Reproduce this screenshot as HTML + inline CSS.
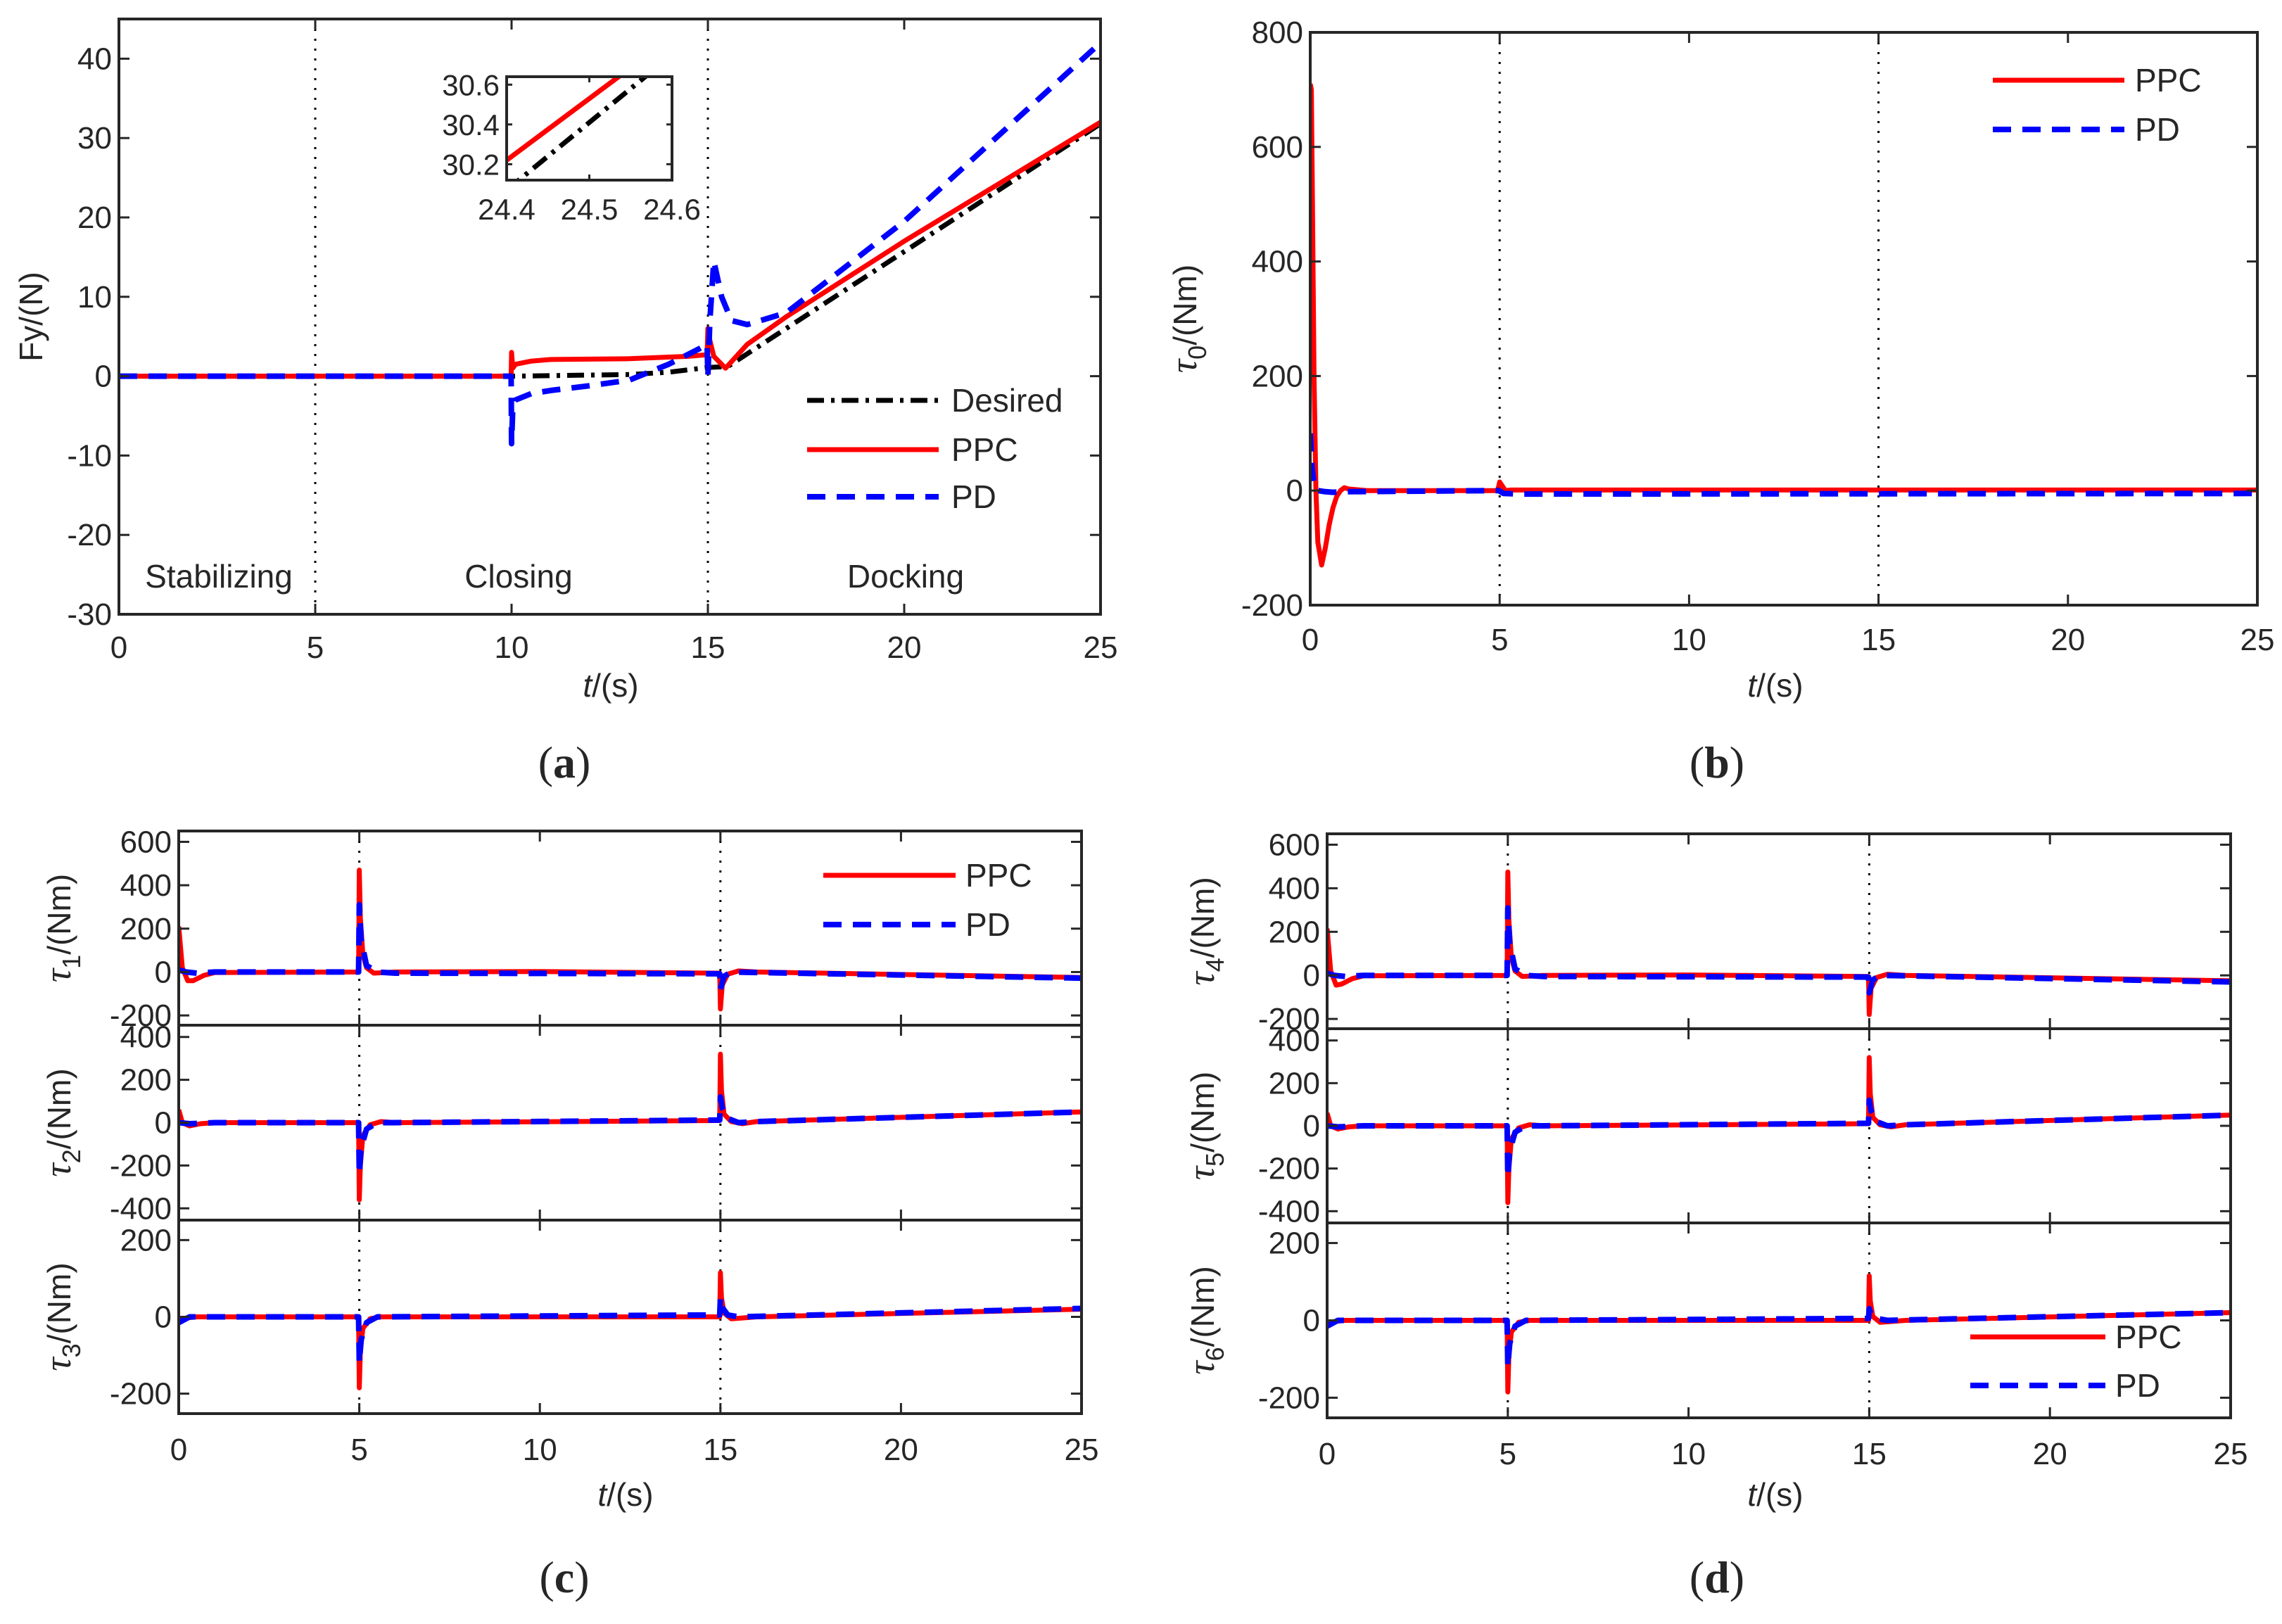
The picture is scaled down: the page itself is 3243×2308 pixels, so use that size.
<!DOCTYPE html>
<html><head><meta charset="utf-8"><style>
html,body{margin:0;padding:0;background:#fff}
svg{display:block}
text{font-family:"Liberation Sans",Arial,sans-serif;fill:#262626}
</style></head><body>
<svg id="fig" width="3243" height="2308" viewBox="0 0 3243 2308" xmlns="http://www.w3.org/2000/svg">
<rect width="3243" height="2308" fill="#fff"/>
<g id="root"></g>
<text x="802" y="1105" font-size="64" text-anchor="middle" style="font-family:'Liberation Serif',serif">(<tspan font-weight="bold">a</tspan>)</text>
<text x="2440" y="1105" font-size="64" text-anchor="middle" style="font-family:'Liberation Serif',serif">(<tspan font-weight="bold">b</tspan>)</text>
<text x="802" y="2263" font-size="64" text-anchor="middle" style="font-family:'Liberation Serif',serif">(<tspan font-weight="bold">c</tspan>)</text>
<text x="2440" y="2263" font-size="64" text-anchor="middle" style="font-family:'Liberation Serif',serif">(<tspan font-weight="bold">d</tspan>)</text>
</svg>
<script>
// ---------- Panel (a) data ----------
const aDesT = [0,10,13,14,15,15.5,25];
const aDesV = [0,0,0.2,0.5,1.1,1.2,31.8];
const aPpcT = [0,9.99,10,10.03,10.1,10.5,11,13,14.5,14.98,15,15.05,15.15,15.45,16,17,20,25];
const aPpcV = [0,0,3,1,1.5,1.9,2.1,2.2,2.5,2.7,6,4.5,2.5,1,4,7.5,17,32];
const aPdT = [0,9.99,10,10.03,10.1,10.5,11,12,13,14,14.8,14.98,15,15.05,15.15,15.35,15.6,16,17,20,25];
const aPdV = [0,0,-8.5,-4,-3,-2.2,-1.8,-1.2,-0.5,1.5,3.5,4,0,7,14.5,10,7,6.5,8,19.5,42];
const insetT = [24.4,24.6];
const insetPpcV = [30.22,30.84];
const insetDesV = [30.07,30.75];
const aXTicks = [0,5,10,15,20,25];
const aYTicks = [-30,-20,-10,0,10,20,30,40];
const insetXTicks = [24.4,24.5,24.6];
const insetYTicks = [30.2,30.4,30.6];
// ---------- Panel (b) data ----------
const bPpcT = [0,0.03,0.06,0.1,0.15,0.2,0.3,0.4,0.5,0.6,0.7,0.8,0.9,1,1.5,4.95,5,5.05,5.15,5.3,25];
const bPpcV = [710,700,500,200,0,-90,-130,-100,-60,-30,-10,0,5,3,0,0,15,10,0,1,1];
const bPdT = [0,0.05,0.1,0.2,0.4,0.6,1,4.98,5.1,5.5,25];
const bPdV = [100,40,10,0,-2,-3,-2,0,-5,-6,-5];
const bYTicks = [-200,0,200,400,600,800];
// ---------- Panel (c) data ----------
const t1PpcT = [0,0.1,0.25,0.4,0.7,1,4.98,5,5.03,5.1,5.2,5.4,6,10,14.98,15,15.05,15.2,15.5,16,25];
const t1PpcV = [210,20,-40,-40,-15,-2,0,470,250,80,20,-5,0,2,-5,-170,-60,-10,5,0,-25];
const t1PdT = [0,0.2,0.5,1,4.98,5,5.05,5.2,5.5,6,14.98,15,15.1,15.3,16,25];
const t1PdV = [10,0,-5,0,0,310,150,30,0,-5,-8,-80,-20,0,-2,-28];
const t2PpcT = [0,0.1,0.3,0.6,1,4.98,5,5.03,5.1,5.3,5.6,6,14.98,15,15.03,15.1,15.3,15.6,16,25];
const t2PpcV = [60,0,-15,-5,0,0,-360,-200,-60,-10,5,0,10,320,150,40,5,-5,5,50];
const t2PdT = [0,0.3,1,4.98,5,5.05,5.2,5.5,6,14.98,15,15.05,15.2,15.5,16,25];
const t2PdV = [0,-5,0,0,-240,-120,-30,0,0,12,120,70,20,0,5,50];
const t3PpcT = [0,0.2,0.5,4.98,5,5.03,5.1,5.3,5.6,14.98,15,15.03,15.1,15.3,15.6,16,25];
const t3PpcV = [-10,-3,0,0,-185,-90,-30,-5,0,0,115,50,10,-5,-3,0,20];
const t3PdT = [0,0.3,4.98,5,5.05,5.2,5.5,14.98,15,15.05,15.2,15.5,25];
const t3PdV = [-15,0,0,-120,-60,-15,0,5,50,25,5,0,22];
// ---------- Panel (d) data ----------
const t4PpcT = [0,0.1,0.25,0.4,0.7,1,4.98,5,5.03,5.1,5.2,5.4,6,10,14.98,15,15.05,15.2,15.5,16,25];
const t4PpcV = [215,20,-45,-40,-15,-2,0,475,250,80,20,-5,0,2,-5,-180,-60,-10,5,0,-25];
const t4PdT = [0,0.2,0.5,1,4.98,5,5.05,5.2,5.5,6,14.98,15,15.1,15.3,16,25];
const t4PdV = [10,0,-5,0,0,310,150,30,0,-5,-8,-80,-20,0,-2,-30];
const t5PpcT = [0,0.1,0.3,0.6,1,4.98,5,5.03,5.1,5.3,5.6,6,14.98,15,15.03,15.1,15.3,15.6,16,25];
const t5PpcV = [60,0,-15,-5,0,0,-360,-200,-60,-10,5,0,10,320,150,40,5,-5,5,50];
const t5PdT = [0,0.3,1,4.98,5,5.05,5.2,5.5,6,14.98,15,15.05,15.2,15.5,16,25];
const t5PdV = [0,-5,0,0,-240,-120,-30,0,0,12,120,70,20,0,5,50];
const t6PpcT = [0,0.2,0.5,4.98,5,5.03,5.1,5.3,5.6,14.98,15,15.03,15.1,15.3,15.6,16,25];
const t6PpcV = [-10,-3,0,0,-185,-90,-30,-5,0,0,115,50,10,-5,-3,0,20];
const t6PdT = [0,0.3,4.98,5,5.05,5.2,5.5,14.98,15,15.05,15.2,15.5,25];
const t6PdV = [-15,0,0,-120,-60,-15,0,5,30,15,5,0,20];
const tXTicks = [0,5,10,15,20,25];
const s1YTicks = [-200,0,200,400,600];
const s2YTicks = [-400,-200,0,200,400];
const s3YTicks = [-200,0,200];
const phaseLines = [5,15];

const NS = "http://www.w3.org/2000/svg";
const root = document.getElementById('root');
let clipId = 0;
function el(tag, attrs, parent){
  const e = document.createElementNS(NS, tag);
  for (const k in attrs) e.setAttribute(k, attrs[k]);
  (parent||root).appendChild(e);
  return e;
}
function makeAxes(name, x0,x1,y0,y1, xlim, ylim){
  const g = el('g',{});
  
  
  const sx = v => x0 + (v-xlim[0])/(xlim[1]-xlim[0])*(x1-x0);
  const sy = v => y1 - (v-ylim[0])/(ylim[1]-ylim[0])*(y1-y0);
  const cid = 'clip'+(clipId++);
  const cp = el('clipPath',{id:cid},g);
  el('rect',{x:x0,y:y0,width:x1-x0,height:y1-y0},cp);
  const plot = el('g',{'clip-path':'url(#'+cid+')'},g);
  return {g,plot,sx,sy,x0,x1,y0,y1};
}
function ticks(ax, xt, yt, opts){
  const tl = opts.tl||15;
  xt.forEach(v=>{
    const x = ax.sx(v);
    const t1 = el('line',{x1:x,x2:x,y1:ax.y1,y2:ax.y1-tl,stroke:'#262626','stroke-width':3},ax.g);
    
    
    el('line',{x1:x,x2:x,y1:ax.y0,y2:ax.y0+tl,stroke:'#262626','stroke-width':3},ax.g);
    if (opts.xlabels){
      const t = el('text',{x:x,y:ax.y1+(opts.xoff||62),'font-size':opts.fs||44,'text-anchor':'middle'},ax.g);
      t.textContent = opts.xfmt?opts.xfmt(v):String(v);
      
      
    }
  });
  yt.forEach(v=>{
    const y = ax.sy(v);
    const t1 = el('line',{x1:ax.x0,x2:ax.x0+tl,y1:y,y2:y,stroke:'#262626','stroke-width':3},ax.g);
    
    
    el('line',{x1:ax.x1,x2:ax.x1-tl,y1:y,y2:y,stroke:'#262626','stroke-width':3},ax.g);
    const t = el('text',{x:ax.x0-10,y:y+15,'font-size':opts.fs||44,'text-anchor':'end'},ax.g);
    t.textContent = opts.yfmt?opts.yfmt(v):String(v);
    
    
  });
}
function frame(ax){
  const r = el('rect',{x:ax.x0,y:ax.y0,width:ax.x1-ax.x0,height:ax.y1-ax.y0,fill:'none',stroke:'#262626','stroke-width':4},ax.g);
  
  
}
function series(ax, T, V, style, name){
  let d='';
  for(let i=0;i<T.length;i++) d += (i?'L':'M')+ax.sx(T[i]).toFixed(1)+','+ax.sy(V[i]).toFixed(1);
  const attrs = {d:d,fill:'none','stroke-linejoin':'round'};
  if(style==='ppc'){attrs.stroke='#ff0000';attrs['stroke-width']=7;}
  else if(style==='pd'){attrs.stroke='#0000ff';attrs['stroke-width']=8;attrs['stroke-dasharray']='26,16';}
  else {attrs.stroke='#000';attrs['stroke-width']=7;attrs['stroke-dasharray']='24,10,5,10';}
  const p = el('path',attrs,ax.plot);
  
  
}
function vlines(ax){
  phaseLines.forEach(v=>{
    const l = el('line',{x1:ax.sx(v),x2:ax.sx(v),y1:ax.y0,y2:ax.y1,stroke:'#000','stroke-width':3,'stroke-dasharray':'3,11'},ax.plot);
    
    
  });
}
function legend(items, xa, xb, xt){
  items.forEach(it=>{
    const attrs = {x1:xa,x2:xb,y1:it.y,y2:it.y,'stroke-width':7};
    if(it.s==='ppc'){attrs.stroke='#ff0000';}
    else if(it.s==='pd'){attrs.stroke='#0000ff';attrs['stroke-width']=8;attrs['stroke-dasharray']='26,16';}
    else {attrs.stroke='#000';attrs['stroke-dasharray']='24,10,5,10';}
    const l = el('line',attrs);
    
    
    const t = el('text',{x:xt,y:it.y+16,'font-size':46});
    t.textContent = it.t;
    
    
  });
}
function text(x,y,str,fs,name,anchor){
  const t = el('text',{x:x,y:y,'font-size':fs,'text-anchor':anchor||'middle'});
  t.textContent = str;
  
  
  return t;
}
function xlabel(x,y,name){
  const t = el('text',{x:x,y:y,'font-size':46,'text-anchor':'middle'});
  
  
  const a = el('tspan',{'font-style':'italic'},t); a.textContent='t';
  const b = el('tspan',{},t); b.textContent='/(s)';
}
function tauLabel(x,y,sub,name){
  const t = el('text',{x:0,y:0,'font-size':46,'text-anchor':'middle',transform:'translate('+x+','+y+') rotate(-90)'});
  
  
  const a = el('tspan',{'font-style':'italic',style:"font-family:'Liberation Serif',serif",'font-size':54},t); a.textContent='τ';
  const b = el('tspan',{dy:14,'font-size':36},t); b.textContent=sub;
  const c = el('tspan',{dy:-14},t); c.textContent='/(Nm)';
}

// ----- Panel a -----
const axA = makeAxes('panel-a-axes',169,1564,27,873,[0,25],[-30,45]);
vlines(axA);
series(axA,aDesT,aDesV,'des','series-desired');
series(axA,aPpcT,aPpcV,'ppc','series-ppc');
series(axA,aPdT,aPdV,'pd','series-pd');
ticks(axA,aXTicks,aYTicks,{xlabels:true,xoff:62});
frame(axA);
text(311,835,'Stabilizing',46,'phase-label-stabilizing');
text(737,835,'Closing',46,'phase-label-closing');
text(1287,835,'Docking',46,'phase-label-docking');
legend([{t:'Desired',s:'des',y:569},{t:'PPC',s:'ppc',y:639},{t:'PD',s:'pd',y:706}],1147,1334,1352);
xlabel(868,990,'x-axis-title-a');
const fy = el('text',{x:0,y:0,'font-size':46,'text-anchor':'middle',transform:'translate(60,450) rotate(-90)'});
fy.textContent='Fy/(N)';


// inset
const axI = makeAxes('inset-axes',720,955,109,256,[24.4,24.6],[30.12,30.64]);
el('rect',{x:720,y:109,width:235,height:147,fill:'#fff'},axI.plot);
series(axI,insetT,insetDesV,'des','inset-desired');
series(axI,insetT,insetPpcV,'ppc','inset-ppc');
ticks(axI,insetXTicks,insetYTicks,{xlabels:true,xoff:56,tl:8,fs:42,xfmt:v=>v.toFixed(1),yfmt:v=>v.toFixed(1)});
frame(axI);

// ----- Panel b -----
const axB = makeAxes('panel-b-axes',1862,3208,46,860,[0,25],[-200,800]);
vlines(axB);
series(axB,bPpcT,bPpcV,'ppc','series-ppc-b');
series(axB,bPdT,bPdV,'pd','series-pd-b');
ticks(axB,aXTicks,bYTicks,{xlabels:true,xoff:64});
frame(axB);
legend([{t:'PPC',s:'ppc',y:114},{t:'PD',s:'pd',y:184}],2832,3019,3034);
xlabel(2523,990,'x-axis-title-b');
tauLabel(1700,453,'0','y-axis-title-b');

// ----- Panels c & d -----
function stack(prefix,x0,x1,ys,data,labX,subs){
  const lims = [[-245,650],[-455,455],[-252,252]];
  const yts = [s1YTicks,s2YTicks,s3YTicks];
  for(let k=0;k<3;k++){
    const ax = makeAxes(prefix+'-sub'+(k+1),x0,x1,ys[k],ys[k+1],[0,25],lims[k]);
    vlines(ax);
    series(ax,data[k][0],data[k][1],'ppc','series-ppc-tau'+subs[k]);
    series(ax,data[k][2],data[k][3],'pd','series-pd-tau'+subs[k]);
    ticks(ax,tXTicks,yts[k],{xlabels:k===2,xoff:66});
    frame(ax);
    tauLabel(labX,(ys[k]+ys[k+1])/2,subs[k],'y-axis-title-tau'+subs[k]);
  }
}
stack('panel-c',254,1537,[1181,1457,1734,2009],
  [[t1PpcT,t1PpcV,t1PdT,t1PdV],[t2PpcT,t2PpcV,t2PdT,t2PdV],[t3PpcT,t3PpcV,t3PdT,t3PdV]],100,['1','2','3']);
legend([{t:'PPC',s:'ppc',y:1244},{t:'PD',s:'pd',y:1314}],1170,1358,1372);
xlabel(889,2140,'x-axis-title-c');
stack('panel-d',1886,3170,[1185,1462,1738,2015],
  [[t4PpcT,t4PpcV,t4PdT,t4PdV],[t5PpcT,t5PpcV,t5PdT,t5PdV],[t6PpcT,t6PpcV,t6PdT,t6PdV]],1725,['4','5','6']);
legend([{t:'PPC',s:'ppc',y:1900},{t:'PD',s:'pd',y:1969}],2800,2992,3006);
xlabel(2523,2140,'x-axis-title-d');
</script>
</body></html>
